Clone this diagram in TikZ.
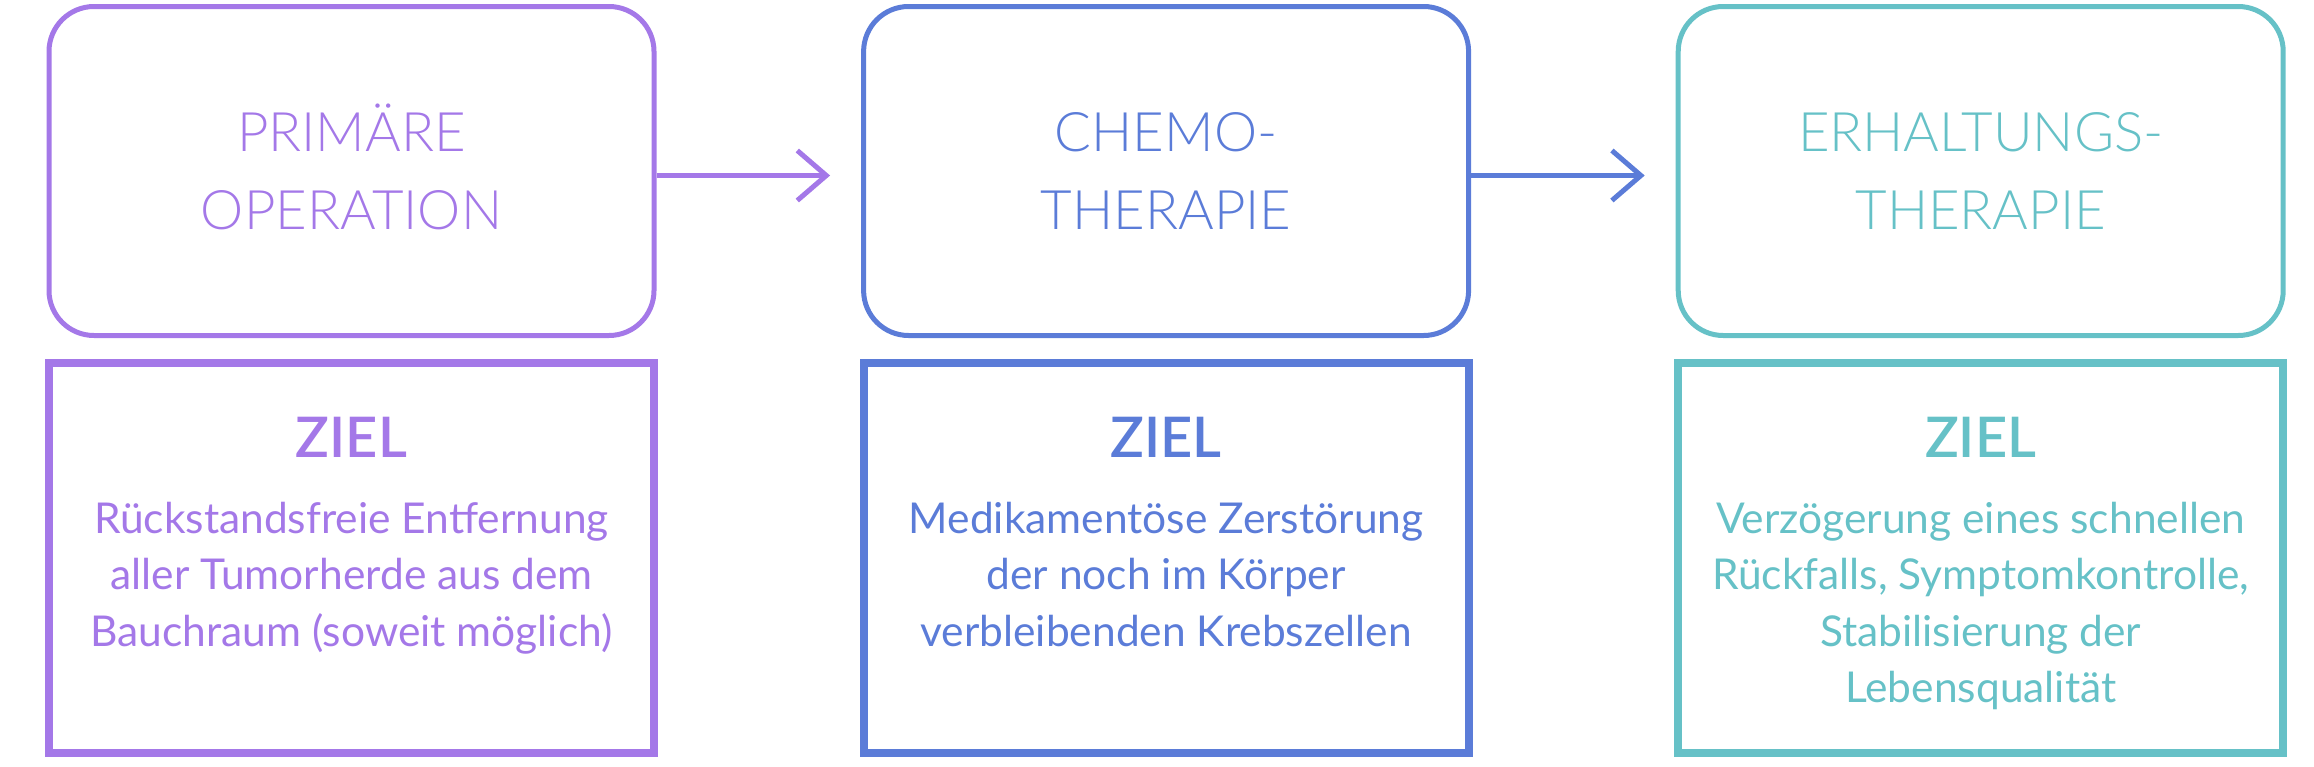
\documentclass[tikz,border=0pt]{standalone}
\usepackage{fontspec}
\setmainfont{Lato}
\newfontfamily\lightfont{Lato Light}
\newfontfamily\semifont{Lato Semibold}
\usetikzlibrary{arrows.meta}
\definecolor{cpurple}{HTML}{A478E8}
\definecolor{cblue}{HTML}{5B7CD8}
\definecolor{cteal}{HTML}{66C1C7}
\begin{document}
\begin{tikzpicture}[x=1pt,y=-1pt,
  phase/.style={draw, line width=5pt, rounded corners=45pt, minimum width=605pt, minimum height=329pt, inner sep=0pt},
  goal/.style={draw, line width=8pt, minimum width=605pt, minimum height=390pt, inner sep=0pt},
  ttl/.style={anchor=base, inner sep=0pt, font=\lightfont\fontsize{54.5}{78}\selectfont},
  zl/.style={anchor=base, inner sep=0pt, font=\semifont\fontsize{56}{60}\selectfont},
  bd/.style={anchor=base, inner sep=0pt, font=\fontsize{42.5}{56}\selectfont},
  flow/.style={line width=5pt, -{Straight Barb[length=29pt,width=50pt]}, shorten >=31pt}]
\useasboundingbox (0,0) rectangle (2314,766);
% column 1
\node[phase, draw=cpurple] (p1) at (351.5,171) {};
\node[goal, draw=cpurple] (g1) at (351.5,557.5) {};
\node[ttl, text=cpurple] (p1a) at (351.5,151) {PRIMÄRE};
\node[ttl, text=cpurple] (p1b) at (351.5,229) {OPERATION};
\node[zl, text=cpurple] (z1) at (351.5,457) {ZIEL};
\node[bd, text=cpurple] (g1a) at (351.5,533) {Rückstandsfreie Entfernung};
\node[bd, text=cpurple] (g1b) at (351.5,589.5) {aller Tumorherde aus dem};
\node[bd, text=cpurple] (g1c) at (351.5,646) {Bauchraum (soweit möglich)};
% column 2
\node[phase, draw=cblue] (p2) at (1166.1,171) {};
\node[goal, draw=cblue] (g2) at (1166.1,557.5) {};
\node[ttl, text=cblue] (p2a) at (1166.1,151) {CHEMO-};
\node[ttl, text=cblue] (p2b) at (1166.1,229) {THERAPIE};
\node[zl, text=cblue] (z2) at (1166.1,457) {ZIEL};
\node[bd, text=cblue] (g2a) at (1166.1,533) {Medikamentöse Zerstörung};
\node[bd, text=cblue] (g2b) at (1166.1,589.5) {der noch im Körper};
\node[bd, text=cblue] (g2c) at (1166.1,646) {verbleibenden Krebszellen};
% column 3
\node[phase, draw=cteal] (p3) at (1980.7,171) {};
\node[goal, draw=cteal] (g3) at (1980.7,557.5) {};
\node[ttl, text=cteal] (p3a) at (1980.7,151) {ERHALTUNGS-};
\node[ttl, text=cteal] (p3b) at (1980.7,229) {THERAPIE};
\node[zl, text=cteal] (z3) at (1980.7,457) {ZIEL};
\node[bd, text=cteal] (g3a) at (1980.7,533) {Verzögerung eines schnellen};
\node[bd, text=cteal] (g3b) at (1980.7,589.5) {Rückfalls, Symptomkontrolle,};
\node[bd, text=cteal] (g3c) at (1980.7,646) {Stabilisierung der};
\node[bd, text=cteal] (g3d) at (1980.7,702.5) {Lebensqualität};
% arrows
\draw[flow, cpurple] ([yshift=-4.5pt]p1.east) -- ([yshift=-4.5pt]p2.west);
\draw[flow, cblue] ([yshift=-4.5pt]p2.east) -- ([yshift=-4.5pt]p3.west);
\end{tikzpicture}
\end{document}
